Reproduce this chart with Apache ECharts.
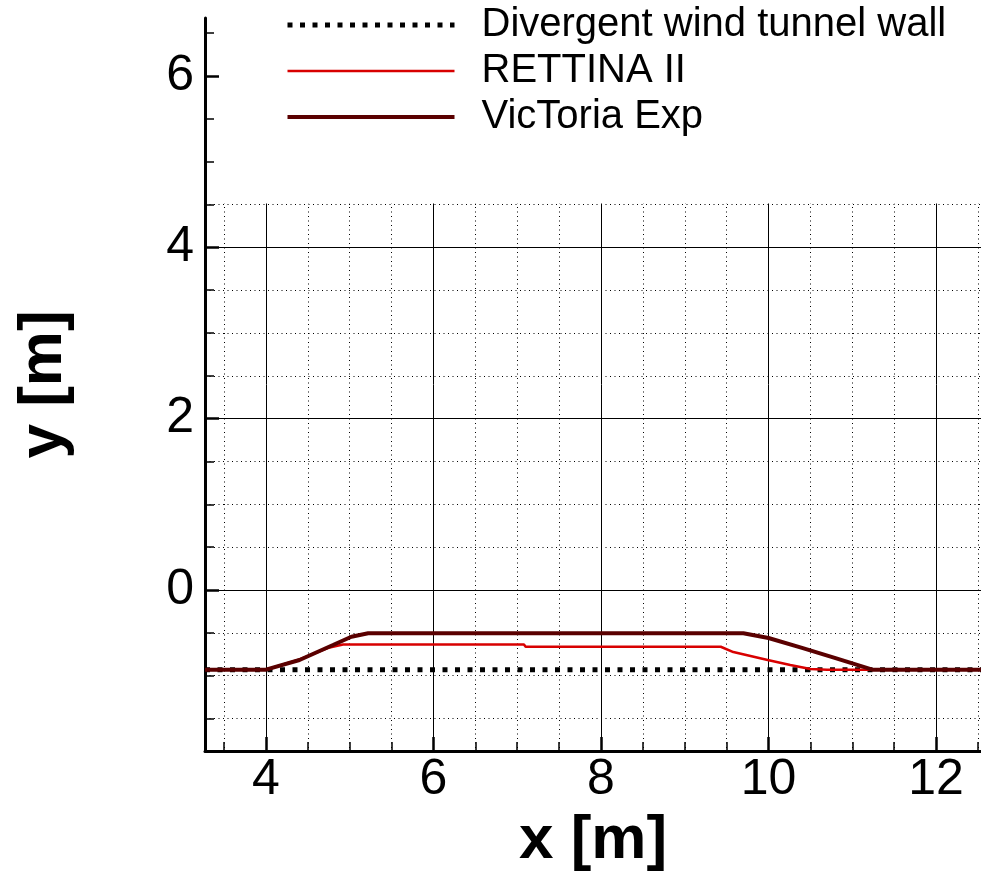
<!DOCTYPE html>
<html><head><meta charset="utf-8">
<script src="https://cdn.jsdelivr.net/npm/echarts@6/dist/echarts.min.js"></script>
<style>html,body{margin:0;padding:0;background:#fff}#c{width:981px;height:872px}</style>
</head><body><div id="c"></div>
<script>
// ---- axis ranges and ticks ----
const xMin = 3.272, xMax = 12.537;
const yMin = -1.879, yMax = 6.677;
const xMajor = [4, 6, 8, 10, 12];
const xMinor = [3.5, 4.5, 5, 5.5, 6.5, 7, 7.5, 8.5, 9, 9.5, 10.5, 11, 11.5, 12.5];
const yMajor = [0, 2, 4, 6];
const yMinor = [-1.5, -1, -0.5, 0.5, 1, 1.5, 2.5, 3, 3.5, 4.5, 5, 5.5, 6.5];
const gridTop = 4.5; // grid lines are drawn up to this y value (legend box above)

// ---- series ----
const seriesNames = ['Divergent wind tunnel wall', 'RETTINA II', 'VicToria Exp'];
const wallX = [3.272, 12.537];
const wallY = [-0.93, -0.93];
const rettinaX = [3.272, 4.0, 4.4, 4.76, 4.92, 7.08, 7.1, 9.43, 9.58, 9.99, 10.26, 10.5, 10.7, 12.537];
const rettinaY = [-0.93, -0.93, -0.81, -0.67, -0.635, -0.635, -0.662, -0.662, -0.724, -0.817, -0.875, -0.922, -0.93, -0.93];
const victoriaX = [3.272, 4.0, 4.4, 4.8, 5.02, 5.22, 9.7, 10.0, 10.4, 10.8, 11.24, 12.537];
const victoriaY = [-0.93, -0.93, -0.817, -0.642, -0.545, -0.505, -0.505, -0.56, -0.675, -0.795, -0.93, -0.93];

const FONT = '"Liberation Sans", Arial, Helvetica, sans-serif';
const wallStyle = { color: '#000', width: 5, type: [5, 7.5], cap: 'butt' };
const rettinaStyle = { color: '#d80000', width: 2.5, type: 'solid' };
const victoriaStyle = { color: '#5a0000', width: 4, type: 'solid' };

function pairs(xs, ys) { return xs.map((x, i) => [x, ys[i]]); }

function baseAxis(dim, extra) {
  const isX = dim === 'x';
  return Object.assign({
    type: 'value',
    gridIndex: 0,
    position: isX ? 'bottom' : 'left',
    min: isX ? xMin : yMin,
    max: isX ? xMax : yMax,
    axisLine: { show: false, onZero: false },
    axisTick: { show: false },
    axisLabel: { show: false },
    splitLine: { show: false }
  }, extra);
}

function axesFor(dim) {
  const isX = dim === 'x';
  const major = isX ? xMajor : yMajor;
  const minor = isX ? xMinor : yMinor;
  return [
    baseAxis(dim, {
      z: 0,
      axisTick: { show: false, customValues: major },
      axisLabel: { show: false, customValues: major },
      splitLine: { show: true, lineStyle: { color: '#000', width: 1 } }
    }),
    baseAxis(dim, {
      z: 0,
      axisTick: { show: false, customValues: minor },
      axisLabel: { show: false, customValues: minor },
      splitLine: { show: true, lineStyle: { color: '#000', width: 1, type: [1, 3.5] } }
    }),
    baseAxis(dim, {
      z: 3,
      name: isX ? 'x [m]' : 'y [m]',
      nameLocation: 'middle',
      nameGap: isX ? 57 : 130,
      nameRotate: isX ? 0 : 90,
      nameTextStyle: { fontFamily: FONT, fontSize: 62, fontWeight: 'bold', color: '#000' },
      axisLine: { show: true, onZero: false, lineStyle: { color: '#000', width: 3 } },
      axisTick: { show: true, inside: true, length: 14, customValues: major, lineStyle: { color: '#000', width: 2.5 } },
      axisLabel: { show: true, customValues: major, margin: isX ? 4 : 11, fontFamily: FONT, fontSize: 50, color: '#000' }
    }),
    baseAxis(dim, {
      z: 3,
      axisTick: { show: true, inside: true, length: 9, customValues: minor, lineStyle: { color: '#000', width: 1.5 } },
      axisLabel: { show: false, customValues: minor }
    })
  ];
}

const option = {
  animation: false,
  backgroundColor: '#fff',
  grid: { left: 205, right: 0, top: 18, bottom: 121, containLabel: false, outerBoundsMode: 'none' },
  xAxis: axesFor('x'),
  yAxis: axesFor('y'),
  legend: {
    orient: 'vertical',
    left: 285,
    top: 5,
    padding: 0,
    itemWidth: 167,
    itemHeight: 14,
    itemGap: 6,
    selectedMode: false,
    itemStyle: { opacity: 0, borderWidth: 0 },
    data: [
      { name: seriesNames[0], lineStyle: wallStyle, itemStyle: { opacity: 0 } },
      { name: seriesNames[1], lineStyle: rettinaStyle, itemStyle: { opacity: 0 } },
      { name: seriesNames[2], lineStyle: victoriaStyle, itemStyle: { opacity: 0 } }
    ],
    textStyle: { fontFamily: FONT, fontSize: 40, lineHeight: 40, color: '#000', padding: [0, 0, 0, 22] }
  },
  series: [
    {
      name: seriesNames[0], type: 'line', xAxisIndex: 2, yAxisIndex: 2,
      data: pairs(wallX, wallY), symbol: 'none', silent: true,
      lineStyle: wallStyle, itemStyle: { color: '#000' }
    },
    {
      name: seriesNames[1], type: 'line', xAxisIndex: 2, yAxisIndex: 2,
      data: pairs(rettinaX, rettinaY), symbol: 'none', silent: true,
      lineStyle: rettinaStyle, itemStyle: { color: '#d80000' }
    },
    {
      name: seriesNames[2], type: 'line', xAxisIndex: 2, yAxisIndex: 2,
      data: pairs(victoriaX, victoriaY), symbol: 'none', silent: true,
      lineStyle: victoriaStyle, itemStyle: { color: '#5a0000' }
    }
  ]
};

const chart = echarts.init(document.getElementById('c'), null, { renderer: 'canvas' });
chart.setOption(option);
const pxTop = chart.convertToPixel({ yAxisIndex: 0 }, gridTop);
const pxLeft = chart.convertToPixel({ xAxisIndex: 0 }, xMin);
chart.setOption({
  graphic: [{
    type: 'rect', z: 1, silent: true,
    shape: { x: pxLeft + 2, y: 0, width: 981 - pxLeft, height: pxTop - 1 },
    style: { fill: '#fff' }
  }]
});
</script>
</body></html>
